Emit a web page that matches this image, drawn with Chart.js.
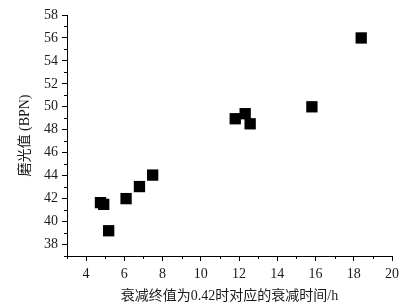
<!DOCTYPE html>
<html>
<head>
<meta charset="utf-8">
<script src="https://cdn.jsdelivr.net/npm/chart.js@4.4.0/dist/chart.umd.min.js"></script>
<style>
  html, body { margin: 0; padding: 0; background: #fff; }
  #wrap { width: 412px; height: 308px; }
</style>
</head>
<body>
<div id="wrap"><canvas id="chart" width="412" height="308"></canvas></div>
<script>
// decay time (h) when the decay reaches 0.42, and polish value (BPN)
const decayTime = [4.75, 4.92, 5.18, 6.09, 6.79, 7.48, 11.8, 12.32, 12.58, 15.81, 18.39];
const polishValue = [41.65, 41.5, 39.2, 42, 43.05, 44.05, 48.96, 49.4, 48.52, 50, 56];

const xMajorTicks = [4, 6, 8, 10, 12, 14, 16, 18, 20];
const xMinorTicks = [3, 5, 7, 9, 11, 13, 15, 17, 19];
const yMajorTicks = [38, 40, 42, 44, 46, 48, 50, 52, 54, 56, 58];
const yMinorTicks = [37, 39, 41, 43, 45, 47, 49, 51, 53, 55, 57];

const fontFamily = "'Liberation Serif', 'Noto Sans CJK SC', serif";
const textColor = "#1a1a1a";

// short minor tick marks, drawn outside the axes like the major ones
const minorTicks = {
  id: "minorTicks",
  afterDraw(chart) {
    const ctx = chart.ctx;
    const x = chart.scales.x, y = chart.scales.y;
    ctx.save();
    ctx.strokeStyle = "#000";
    ctx.lineWidth = 1;
    ctx.beginPath();
    xMinorTicks.forEach(v => {
      const px = Math.round(x.getPixelForValue(v)) + 0.5;
      ctx.moveTo(px, y.bottom);
      ctx.lineTo(px, y.bottom + 3);
    });
    yMinorTicks.forEach(v => {
      const py = Math.round(y.getPixelForValue(v)) + 0.5;
      ctx.moveTo(x.left, py);
      ctx.lineTo(x.left - 3, py);
    });
    ctx.stroke();
    ctx.restore();
  }
};

new Chart(document.getElementById("chart"), {
  type: "scatter",
  data: {
    datasets: [{
      data: decayTime.map((t, i) => ({ x: t, y: polishValue[i] })),
      pointStyle: "rect",
      pointRadius: 8,
      pointHoverRadius: 8,
      pointBorderWidth: 0,
      backgroundColor: "#000",
      borderColor: "#000"
    }]
  },
  options: {
    responsive: false,
    animation: false,
    layout: { padding: { top: 15, right: 20, left: 0, bottom: 0 } },
    plugins: {
      legend: { display: false },
      tooltip: { enabled: false }
    },
    scales: {
      x: {
        type: "linear",
        min: 3,
        max: 20,
        afterFit: s => { s.height = 52; },
        afterBuildTicks: s => { s.ticks = xMajorTicks.map(v => ({ value: v })); },
        border: { display: true, color: "#000", width: 1 },
        grid: { drawOnChartArea: false, tickLength: 5, tickColor: "#000", tickWidth: 1 },
        ticks: { color: textColor, font: { family: fontFamily, size: 14 }, padding: 5, maxRotation: 0 },
        title: {
          display: true,
          text: "衰减终值为0.42时对应的衰减时间/h",
          color: textColor,
          font: { family: fontFamily, size: 14 },
          padding: { top: 0, bottom: 3 }
        }
      },
      y: {
        type: "linear",
        min: 37,
        max: 58,
        afterFit: s => { s.width = 67; },
        afterBuildTicks: s => { s.ticks = yMajorTicks.map(v => ({ value: v })); },
        border: { display: true, color: "#000", width: 1 },
        grid: { drawOnChartArea: false, tickLength: 5, tickColor: "#000", tickWidth: 1 },
        ticks: { color: textColor, font: { family: fontFamily, size: 14 }, padding: 4 },
        title: {
          display: true,
          text: "磨光值 (BPN)",
          color: textColor,
          font: { family: fontFamily, size: 14 },
          padding: { top: 17, bottom: 0 }
        }
      }
    }
  },
  plugins: [minorTicks]
});
</script>
</body>
</html>
